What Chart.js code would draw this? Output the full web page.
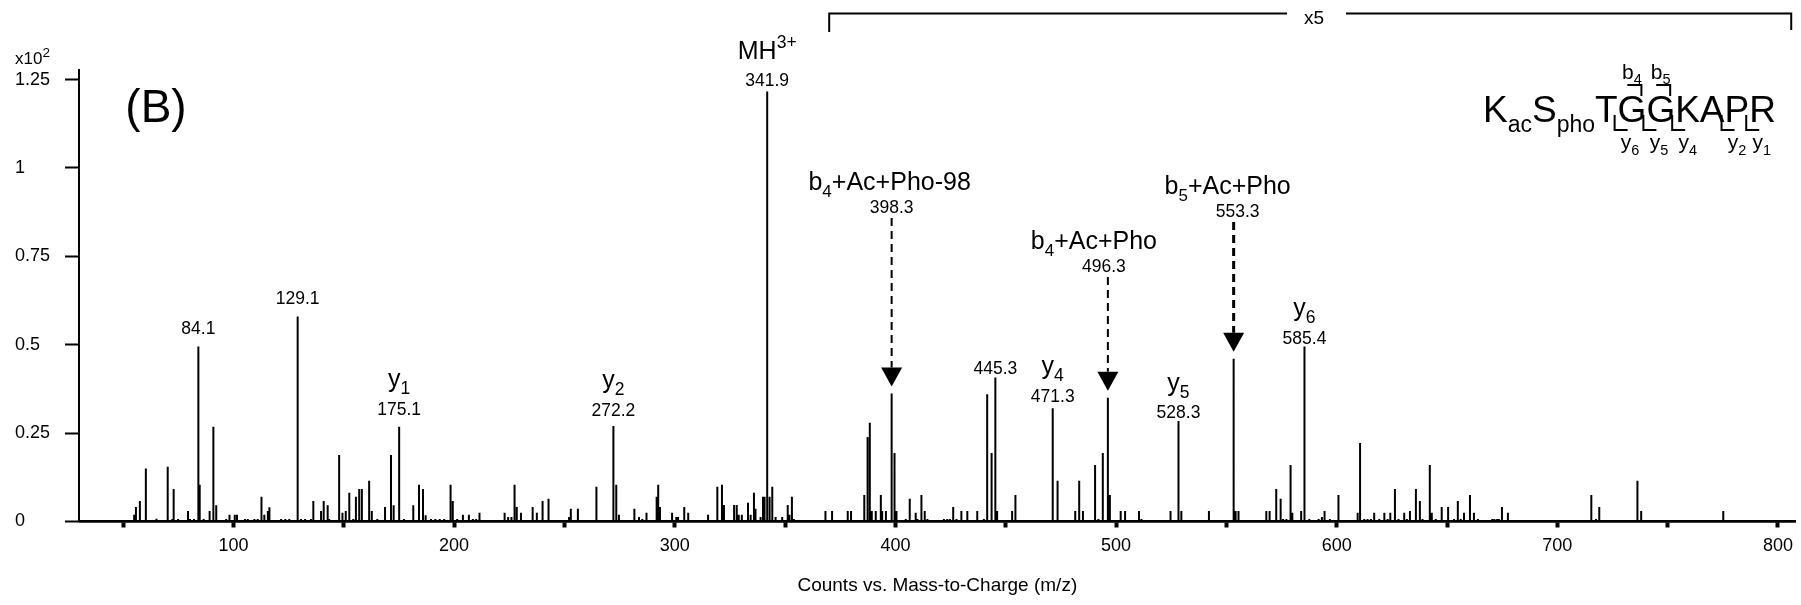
<!DOCTYPE html>
<html>
<head>
<meta charset="utf-8">
<title>Spektrum MS/MS</title>
<script src="https://cdn.jsdelivr.net/npm/chart.js@4.4.1/dist/chart.umd.min.js"></script>
<style>
    html, body { margin: 0; padding: 0; background: #fff; }
    canvas { display: block; }
</style>
</head>
<body>
<canvas id="grafikSpektrum" width="1801" height="605"></canvas>
<script>
// Puncak spektrum: m/z dan intensitas (x10^2 counts, di atas 370 m/z sudah dikali 5)
const peakMz = [
    55.0, 55.8, 57.6, 60.3, 65.1, 70.2, 72.3, 72.9, 74.9, 79.4, 80.3, 82.1, 84.1, 84.7, 86.5, 89.2, 90.9, 92.2,
    96.7, 98.2, 100.6, 101.6, 105.2, 106.5, 109.5, 111.0, 112.7, 114.0, 115.6, 116.3, 121.6, 123.5, 125.3,
    129.1, 130.6, 132.5, 135.1, 136.2, 139.7, 140.9, 142.7, 143.4, 147.9, 149.4, 150.9, 152.5, 154.3, 155.5,
    157.0, 158.2, 161.5, 162.7, 165.2, 168.7, 171.4, 172.6, 175.1, 177.3, 181.5, 184.1, 185.9, 187.1, 189.5,
    191.5, 193.5, 195.5, 198.4, 199.4, 201.4, 204.0, 206.7, 208.5, 210.0, 211.5, 214.0, 217.0, 220.0, 222.9,
    224.5, 226.0, 227.4, 228.4, 230.3, 235.6, 237.5, 240.1, 242.8, 252.1, 252.9, 256.1, 262.0, 264.5, 272.2,
    273.5, 274.7, 281.7, 283.8, 285.3, 287.2, 291.8, 292.5, 293.3, 298.8, 300.7, 301.5, 304.3, 306.1, 315.1,
    319.3, 321.4, 322.3, 326.9, 328.1, 329.0, 330.4, 333.2, 334.4, 335.9, 336.6, 338.9, 340.0, 340.7, 341.9,
    343.0, 344.2, 345.7, 348.7, 351.2, 352.0, 353.1, 354.0, 362.0, 364.0, 368.3, 371.3, 378.4, 379.9, 385.9,
    387.4, 388.4, 389.3, 391.1, 393.4, 394.0, 395.7, 398.3, 399.6, 400.5, 404.7, 406.5, 409.2, 410.0, 411.8,
    413.3, 414.5, 422.0, 423.5, 424.7, 426.2, 427.7, 429.9, 432.6, 437.1, 440.1, 441.6, 443.6, 445.3, 446.1,
    452.9, 454.4, 456.7, 463.0, 465.0, 471.3, 473.5, 481.5, 483.3, 485.0, 490.5, 492.0, 494.0, 496.3, 497.2,
    502.1, 504.1, 510.4, 511.5, 524.7, 528.3, 529.6, 542.1, 553.3, 554.2, 555.5, 568.1, 569.6, 572.6, 574.6,
    575.7, 577.2, 579.1, 579.9, 583.9, 585.4, 587.6, 591.8, 593.3, 594.5, 596.9, 600.8, 609.5, 610.6, 612.5,
    614.0, 615.5, 617.0, 619.3, 621.6, 623.1, 624.3, 626.4, 628.0, 630.6, 631.8, 633.2, 635.9, 637.7, 638.9,
    642.2, 643.1, 644.9, 647.6, 650.5, 653.2, 654.9, 656.2, 657.7, 660.4, 662.2, 664.0, 670.5, 671.5, 672.7,
    673.5, 674.9, 677.6, 694.5, 696.0, 715.4, 717.5, 719.0, 724.7, 728.9, 736.3, 738.0, 755.3, 765.4, 775.2,
    783.8
];
const peakIntensity = [
    0.019, 0.041, 0.058, 0.150, 0.008, 0.155, 0.007, 0.092, 0.007, 0.030, 0.007, 0.007, 0.495, 0.104, 0.007, 0.030, 0.268, 0.046,
    0.007, 0.019, 0.019, 0.019, 0.007, 0.007, 0.007, 0.007, 0.070, 0.019, 0.030, 0.040, 0.007, 0.007, 0.007,
    0.580, 0.007, 0.007, 0.007, 0.058, 0.030, 0.058, 0.046, 0.007, 0.188, 0.025, 0.030, 0.081, 0.007, 0.070,
    0.092, 0.092, 0.115, 0.030, 0.007, 0.041, 0.188, 0.046, 0.268, 0.007, 0.046, 0.104, 0.092, 0.018, 0.007,
    0.007, 0.007, 0.007, 0.104, 0.058, 0.007, 0.019, 0.019, 0.007, 0.007, 0.025, 0.004, 0.004, 0.004, 0.025,
    0.013, 0.013, 0.104, 0.041, 0.025, 0.041, 0.025, 0.058, 0.064, 0.013, 0.036, 0.036, 0.004, 0.098, 0.270,
    0.104, 0.019, 0.036, 0.013, 0.007, 0.025, 0.070, 0.104, 0.041, 0.025, 0.013, 0.013, 0.041, 0.025, 0.019,
    0.098, 0.104, 0.047, 0.047, 0.047, 0.019, 0.019, 0.053, 0.019, 0.081, 0.036, 0.013, 0.070, 0.070, 1.216,
    0.070, 0.098, 0.013, 0.013, 0.047, 0.019, 0.070, 0.007, 0.004, 0.004, 0.030, 0.030, 0.030, 0.030, 0.075,
    0.239, 0.279, 0.030, 0.030, 0.075, 0.030, 0.030, 0.362, 0.194, 0.030, 0.007, 0.064, 0.025, 0.007, 0.075,
    0.030, 0.007, 0.007, 0.007, 0.007, 0.041, 0.007, 0.030, 0.030, 0.030, 0.007, 0.360, 0.194, 0.407, 0.030,
    0.030, 0.075, 0.004, 0.004, 0.004, 0.320, 0.115, 0.030, 0.115, 0.030, 0.160, 0.007, 0.194, 0.350, 0.075,
    0.030, 0.030, 0.030, 0.007, 0.030, 0.284, 0.030, 0.030, 0.460, 0.030, 0.030, 0.030, 0.030, 0.092, 0.064,
    0.007, 0.007, 0.160, 0.025, 0.030, 0.495, 0.007, 0.007, 0.013, 0.030, 0.007, 0.075, 0.025, 0.222, 0.007,
    0.007, 0.007, 0.025, 0.007, 0.025, 0.007, 0.025, 0.092, 0.007, 0.025, 0.007, 0.030, 0.092, 0.058, 0.007,
    0.160, 0.025, 0.007, 0.041, 0.041, 0.007, 0.058, 0.007, 0.025, 0.075, 0.025, 0.007, 0.007, 0.007, 0.007,
    0.007, 0.041, 0.025, 0.004, 0.004, 0.075, 0.007, 0.041, 0.004, 0.004, 0.115, 0.030, 0.004, 0.004, 0.030,
    0.004
];

// Sumbu
const xTickValues = [50, 100, 150, 200, 250, 300, 350, 400, 450, 500, 550, 600, 650, 700, 750, 800];
const xTickLabels = ['', '100', '', '200', '', '300', '', '400', '', '500', '', '600', '', '700', '', '800'];
const yTickValues = [0, 0.25, 0.5, 0.75, 1, 1.25];
const yTickLabels = ['0', '0.25', '0.5', '0.75', '1', '1.25'];

// Puncak yang diberi label (angka m/z + nama ion)
const labelMz = [84.1, 129.1, 175.1, 272.2, 341.9, 445.3, 471.3, 528.3, 585.4];
const labelIon = ['', '', 'y_1', 'y_2', 'MH^3+', '', 'y_4', 'y_5', 'y_6'];

// Puncak yang ditunjuk panah putus-putus
const arrowMz = [398.3, 496.3, 553.3];
const arrowIon = ['b_4+Ac+Pho-98', 'b_4+Ac+Pho', 'b_5+Ac+Pho'];

// Rentang yang diperbesar x5
const zoomStart = 370;
const zoomEnd = 806;

// Peptida dan ion fragmen
const residues = ['K', 'S', 'T', 'G', 'G', 'K', 'A', 'P', 'R'];
const residueMods = ['ac', 'pho', '', '', '', '', '', '', ''];
const bIons = [4, 5];
const yIons = [6, 5, 4, 2, 1];

const FONT = '"Liberation Sans", Arial, Helvetica, sans-serif';

// jarak angka ke puncak (px), urutannya sama dengan labelMz
const jarakLabel = [17, 17, 17, 15, 10, 8, 11, 7.5, 7.5];

// garis spektrum: tiap puncak jadi batang dari baseline
function buatTitikSpektrum() {
    let titik = [{ x: 30, y: 0 }];
    for (let i = 0; i < peakMz.length; i++) {
        titik.push({ x: peakMz[i], y: 0 });
        titik.push({ x: peakMz[i], y: peakIntensity[i] });
        titik.push({ x: peakMz[i], y: 0 });
    }
    titik.push({ x: 808, y: 0 });
    return titik;
}

function intensitasDari(mz) {
    let idx = 0;
    for (let i = 0; i < peakMz.length; i++) {
        if (Math.abs(peakMz[i] - mz) < Math.abs(peakMz[idx] - mz)) idx = i;
    }
    return peakIntensity[idx];
}

// teks dengan subskrip (_4) dan superskrip (^3+)
function tulisTeks(ctx, str, cx, baseY, size, align, skala) {
    let s = skala || 0.68;
    let bagian = str.split(/(_\d+|\^\S+)/).filter(p => p).map(p => {
        if (p[0] === '_') return { t: p.slice(1), size: size * s, dy: size * 0.28 };
        if (p[0] === '^') return { t: p.slice(1), size: size * s, dy: -size * 0.42 };
        return { t: p, size: size, dy: 0 };
    });
    let total = 0;
    bagian.forEach(p => {
        ctx.font = p.size + 'px ' + FONT;
        p.w = ctx.measureText(p.t).width;
        total += p.w;
    });
    let x = align === 'left' ? cx : cx - total / 2;
    ctx.textAlign = 'left';
    ctx.textBaseline = 'alphabetic';
    bagian.forEach(p => {
        ctx.font = p.size + 'px ' + FONT;
        ctx.fillText(p.t, x, baseY + p.dy);
        x += p.w;
    });
}

const labelPuncak = {
    id: 'labelPuncak',
    afterDraw(chart) {
        const { ctx } = chart;
        const sx = chart.scales.x;
        const sy = chart.scales.y;
        ctx.save();
        ctx.fillStyle = '#000';
        ctx.strokeStyle = '#000';

        // label puncak biasa
        labelMz.forEach((mz, i) => {
            let px = sx.getPixelForValue(mz);
            let top = sy.getPixelForValue(intensitasDari(mz));
            let tengahAngka = top - jarakLabel[i];
            ctx.font = '17.5px ' + FONT;
            ctx.textAlign = 'center';
            ctx.textBaseline = 'middle';
            ctx.fillText(mz.toFixed(1), px, tengahAngka);
            if (labelIon[i]) tulisTeks(ctx, labelIon[i], px, tengahAngka - 23, 25, 'center', 0.7);
        });

        // label dengan panah putus-putus
        const posisiPanah = [
            { angkaY: 208, geserIon: -2, geserAngka: 0, tebal: 2 },
            { angkaY: 267, geserIon: -14, geserAngka: -4, tebal: 2 },
            { angkaY: 212, geserIon: -6, geserAngka: 4, tebal: 3 }
        ];
        arrowMz.forEach((mz, i) => {
            let p = posisiPanah[i];
            let px = sx.getPixelForValue(mz);
            let top = sy.getPixelForValue(intensitasDari(mz));
            ctx.font = '17.5px ' + FONT;
            ctx.textAlign = 'center';
            ctx.textBaseline = 'middle';
            ctx.fillText(mz.toFixed(1), px + p.geserAngka, p.angkaY);
            tulisTeks(ctx, arrowIon[i], px + p.geserIon, p.angkaY - 18, 25);

            let ujung = top - 7;
            let pangkal = ujung - 19;
            ctx.lineWidth = p.tebal;
            ctx.setLineDash([8, 5]);
            ctx.beginPath();
            ctx.moveTo(px, p.angkaY + 10);
            ctx.lineTo(px, pangkal);
            ctx.stroke();
            ctx.setLineDash([]);
            ctx.beginPath();
            ctx.moveTo(px - 10.5, pangkal);
            ctx.lineTo(px + 10.5, pangkal);
            ctx.lineTo(px, ujung);
            ctx.closePath();
            ctx.fill();
        });

        // braket x5
        let kiri = sx.getPixelForValue(zoomStart);
        let kanan = sx.getPixelForValue(zoomEnd);
        let gy = 13.5;
        ctx.lineWidth = 2;
        ctx.beginPath();
        ctx.moveTo(kiri, 32);
        ctx.lineTo(kiri, gy);
        ctx.lineTo(1287, gy);
        ctx.moveTo(1346, gy);
        ctx.lineTo(kanan, gy);
        ctx.lineTo(kanan, 30);
        ctx.stroke();
        ctx.font = '19px ' + FONT;
        ctx.textAlign = 'center';
        ctx.textBaseline = 'middle';
        ctx.fillText('x5', 1314, 19);

        // satuan sumbu y dan label panel
        tulisTeks(ctx, 'x10^2', 15, 64, 17, 'left', 0.8);
        ctx.font = '46px ' + FONT;
        ctx.textAlign = 'center';
        ctx.textBaseline = 'alphabetic';
        ctx.fillText('(B)', 156, 122);

        // urutan peptida
        let x = 1483;
        let dasar = 121.7;
        let batas = [];
        residues.forEach((r, i) => {
            batas.push(x);
            ctx.font = '37px ' + FONT;
            ctx.textAlign = 'left';
            ctx.fillText(r, x, dasar);
            x += ctx.measureText(r).width;
            if (residueMods[i]) {
                ctx.font = '23px ' + FONT;
                ctx.fillText(residueMods[i], x, dasar + 10);
                x += ctx.measureText(residueMods[i]).width;
            }
        });
        ctx.lineWidth = 2;
        bIons.forEach(n => {
            let bx = batas[n] - 5;
            ctx.beginPath();
            ctx.moveTo(bx - 14, 85);
            ctx.lineTo(bx, 85);
            ctx.lineTo(bx, 96);
            ctx.stroke();
            tulisTeks(ctx, 'b_' + n, bx - 9.5, 78.5, 21, 'center', 0.69);
        });
        yIons.forEach(n => {
            let yx = batas[residues.length - n] - 3;
            ctx.beginPath();
            ctx.moveTo(yx, 115);
            ctx.lineTo(yx, 130);
            ctx.lineTo(yx + 13, 130);
            ctx.stroke();
            tulisTeks(ctx, 'y_' + n, yx + 15.5, 149, 21, 'center', 0.69);
        });
        ctx.restore();
    }
};

const ctx = document.getElementById('grafikSpektrum').getContext('2d');
const grafikSpektrum = new Chart(ctx, {
    type: 'scatter',
    data: {
        datasets: [{
            data: buatTitikSpektrum(),
            showLine: true,
            borderColor: '#000',
            borderWidth: 2,
            pointRadius: 0,
            tension: 0,
            clip: false
        }]
    },
    options: {
        responsive: false,
        animation: false,
        devicePixelRatio: 1,
        layout: {
            autoPadding: false,
            padding: { left: 15, top: 70, right: 0, bottom: 0 }
        },
        plugins: {
            legend: { display: false },
            tooltip: { enabled: false }
        },
        scales: {
            x: {
                type: 'linear',
                min: 30,
                max: 808,
                afterBuildTicks: s => { s.ticks = xTickValues.map(v => ({ value: v })); },
                afterFit: s => { s.height = 83.5; },
                grid: {
                    drawOnChartArea: false,
                    drawTicks: true,
                    tickLength: 6,
                    tickWidth: 4,
                    tickColor: '#000'
                },
                border: { display: true, color: '#000', width: 2.5 },
                ticks: {
                    autoSkip: false,
                    maxRotation: 0,
                    padding: 8,
                    color: '#000',
                    font: { family: FONT, size: 18 },
                    callback: (v, i) => xTickLabels[i]
                },
                title: {
                    display: true,
                    text: 'Counts vs. Mass-to-Charge (m/z)',
                    color: '#000',
                    font: { family: FONT, size: 19 },
                    padding: { top: 0, bottom: 7.6 }
                }
            },
            y: {
                min: 0,
                max: 1.277,
                afterBuildTicks: s => { s.ticks = yTickValues.map(v => ({ value: v })); },
                afterFit: s => { s.width = 64; },
                grid: {
                    drawOnChartArea: false,
                    drawTicks: true,
                    tickLength: 14,
                    tickWidth: 2,
                    tickColor: '#000'
                },
                border: { display: true, color: '#000', width: 2 },
                ticks: {
                    crossAlign: 'far',
                    color: '#000',
                    font: { family: FONT, size: 18 },
                    callback: (v, i) => yTickLabels[i]
                }
            }
        }
    },
    plugins: [labelPuncak]
});
</script>
</body>
</html>
